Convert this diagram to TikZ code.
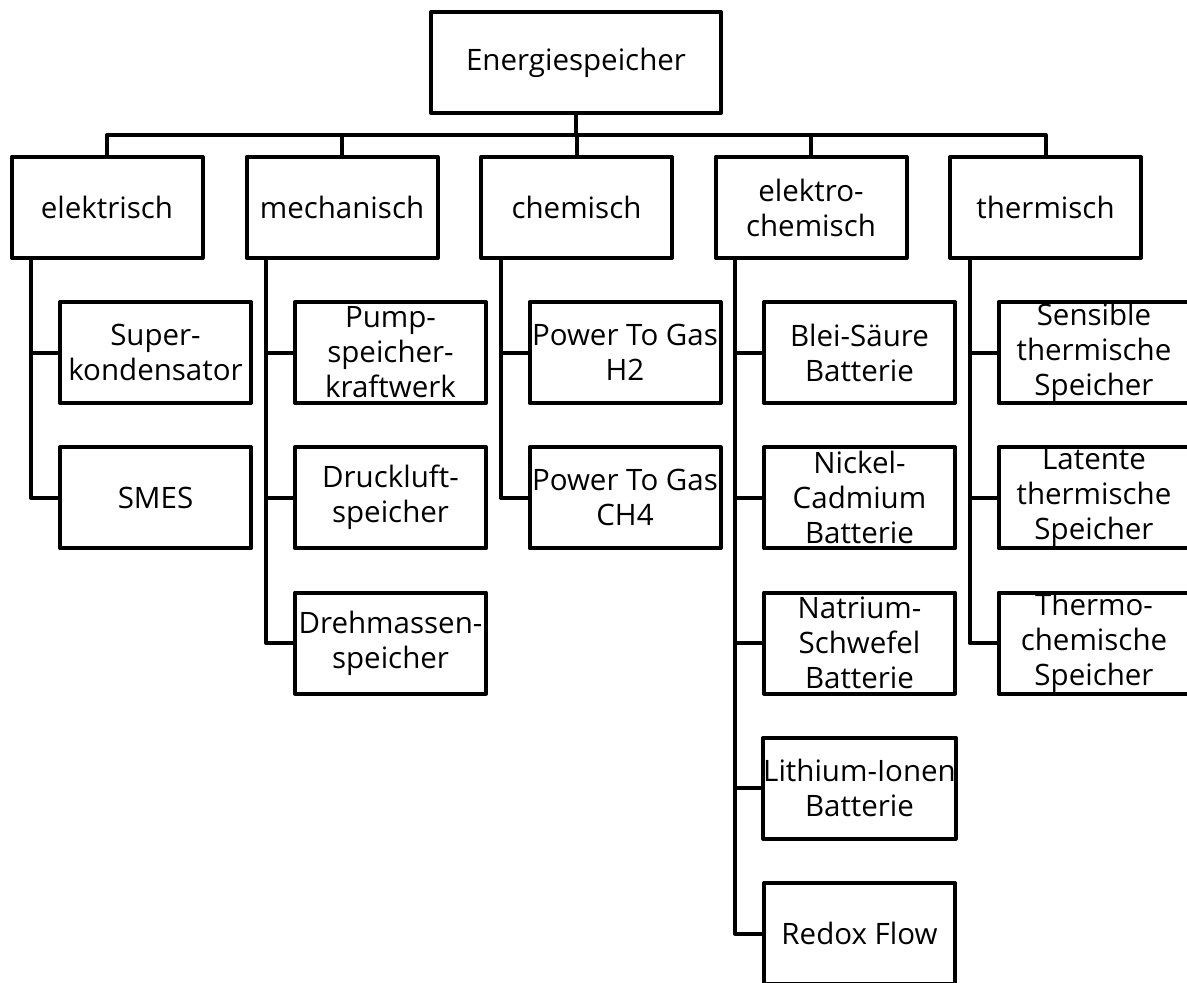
\documentclass[tikz,border=0pt]{standalone}
\usepackage{fontspec}
\setmainfont{Open Sans}
\begin{document}
\begin{tikzpicture}[x=1pt,y=-1pt,
  box/.style={draw,line width=4pt,line join=round,inner sep=0pt,
    minimum width=191pt,minimum height=101pt,align=center,
    font=\fontsize{29.5}{35}\selectfont},
  rootbox/.style={box,minimum width=290pt},
  link/.style={line width=4pt,line join=round}]
\useasboundingbox (0,0) rectangle (1187,983);
\clip (0,0) rectangle (1187,983);

% top level
\node[rootbox] (root) at (576,62.5) {Energiespeicher};

% categories
\node[box] (el)  at (107,207.5)   {elektrisch};
\node[box] (me)  at (342,207.5)   {mechanisch};
\node[box] (ch)  at (576.5,207.5) {chemisch};
\node[box] (ec)  at (811,207.5)   {elektro-\\chemisch};
\node[box] (th)  at (1045.5,207.5){thermisch};

% storage technologies
\node[box] (el1) at (155.5,352.5) {Super-\\kondensator};
\node[box] (el2) at (155.5,497.75){SMES};

\node[box] (me1) at (390.5,352.5) {Pump-\\speicher-\\kraftwerk};
\node[box] (me2) at (390.5,497.75){Druckluft-\\speicher};
\node[box] (me3) at (390.5,643)   {Drehmassen-\\speicher};

\node[box] (ch1) at (625,352.5)   {Power To Gas\\H2};
\node[box] (ch2) at (625,497.75)  {Power To Gas\\CH4};

\node[box] (ec1) at (859.5,352.5) {Blei-Säure\\Batterie};
\node[box] (ec2) at (859.5,497.75){Nickel-\\Cadmium\\Batterie};
\node[box] (ec3) at (859.5,643)   {Natrium-\\Schwefel\\Batterie};
\node[box] (ec4) at (859.5,788.25){Lithium-Ionen\\Batterie};
\node[box] (ec5) at (859.5,933.5) {Redox Flow};

\node[box] (th1) at (1094,352.5)  {Sensible\\thermische\\Speicher};
\node[box] (th2) at (1094,497.75) {Latente\\thermische\\Speicher};
\node[box] (th3) at (1094,643)    {Thermo-\\chemische\\Speicher};

% bus from the root to the categories
\coordinate (bus) at (576,135);
\draw[link] (root.south) -- (bus);
\foreach \c in {el,me,ch,ec,th}
  \draw[link] (bus) -| (\c.north);

% branches from each category to its technologies
\foreach \c/\kids in {el/{el1,el2},me/{me1,me2,me3},ch/{ch1,ch2},
                      ec/{ec1,ec2,ec3,ec4,ec5},th/{th1,th2,th3}}
  \foreach \k in \kids
    \draw[link] ([xshift=-76pt]\c.south) |- (\k.west);
\end{tikzpicture}
\end{document}
